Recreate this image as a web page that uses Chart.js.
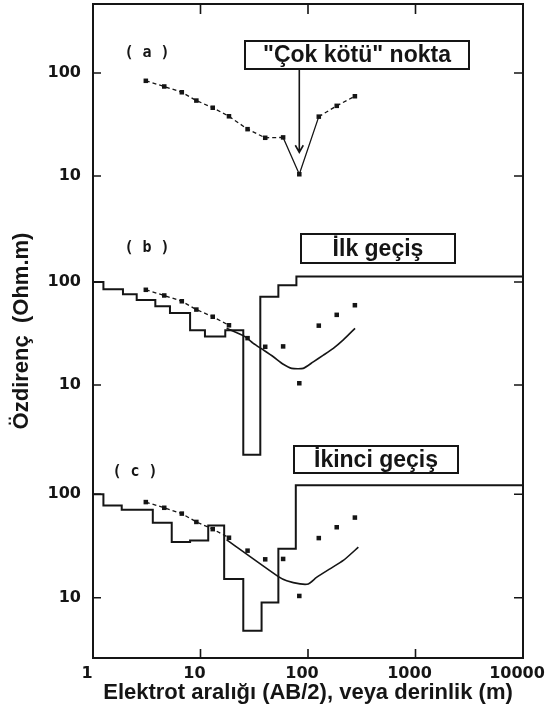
<!DOCTYPE html>
<html>
<head>
<meta charset="utf-8">
<script src="https://cdn.jsdelivr.net/npm/chart.js@4.4.1/dist/chart.umd.min.js"></script>
<style>
  html, body { margin: 0; padding: 0; background: #fff; }
</style>
</head>
<body>
<canvas id="chart" width="545" height="720"></canvas>
<script>
// same sounding shown in all three panels: AB/2 (m) and apparent resistivity (Ohm.m)
const spacing = [3.1, 4.6, 6.7, 9.15, 13, 18.4, 27.4, 40, 58.7, 83, 126, 185, 273];
const measured = [84, 74, 65, 54, 46, 38, 28.5, 23.5, 23.7, 10.4, 37.7, 48, 59.5];
const badIndex = 9;

// (b) first pass - layer tops (m) and layer resistivities
const layerTopsB = [1, 1.25, 1.9, 2.55, 3.8, 5.2, 8, 11, 17, 25, 36, 53, 78, 10000];
const layerResB = [100, 85, 76, 67, 58, 50, 34, 29.5, 34, 2.1, 72, 93, 113, 113];
const modelXB = [17.5, 25.9, 31, 38.4, 47.6, 58.9, 70.5, 90.3, 112, 139, 172, 213, 274];
const modelYB = [35.5, 29.5, 25.4, 21.9, 18.8, 15.9, 14.5, 14.5, 16.8, 19.5, 22.7, 27.4, 35.5];

// (c) second pass
const layerTopsC = [1, 1.25, 1.85, 3.6, 5.4, 8, 11.8, 16.6, 25, 37, 53, 77, 10000];
const layerResC = [100, 78, 71, 53, 34.5, 35.7, 50, 15.2, 4.8, 9, 29.7, 122, 122];
const modelXC = [17.5, 53, 63.4, 84.3, 100.7, 120, 160, 213, 294];
const modelYC = [36.3, 16, 14.6, 13.6, 13.6, 15.7, 19, 22.9, 30.8];

const xTicks = [1, 10, 100, 1000, 10000];
const yTicks = [10, 100];

const ink = '#151515';
const pts = (xs, ys) => xs.map((x, i) => ({ x, y: ys[i] }));
const fieldPts = pts(spacing, measured);

function stairs(tops, res, axis) {
    return { data: pts(tops, res), yAxisID: axis, stepped: true, borderColor: ink, borderWidth: 2,
             pointRadius: 0, clip: false };
}
function dots(axis) {
    return { data: fieldPts, yAxisID: axis, showLine: false, pointStyle: 'rect', pointRadius: 3.2,
             pointBackgroundColor: ink, pointBorderWidth: 0 };
}
function leadIn(axis) {
    return { data: fieldPts.slice(0, 6), yAxisID: axis, borderColor: ink, borderWidth: 1.3,
             borderDash: [4, 3], pointRadius: 0 };
}
function model(xs, ys, axis) {
    return { data: pts(xs, ys), yAxisID: axis, borderColor: ink, borderWidth: 1.6, pointRadius: 0, tension: 0.2 };
}

function panelAxis(min, max, weight, withTitle) {
    return {
        type: 'logarithmic', position: 'left', stack: 'panels', stackWeight: 1, weight,
        min, max,
        grid: { display: false, drawTicks: false },
        border: { display: false },
        afterBuildTicks: s => { s.ticks = yTicks.map(v => ({ value: v })); },
        afterFit: s => { s.width = 93; s.paddingTop = 0; s.paddingBottom = 0; },
        ticks: { callback: v => String(v), color: ink, padding: 12,
                 font: { family: 'DejaVu Sans', size: 16, weight: 'bold' } },
        title: { display: withTitle, text: 'Özdirenç  (Ohm.m)', color: ink,
                 font: { family: 'Liberation Sans', size: 22, weight: 'bold' },
                 padding: { top: 9, bottom: 0 } }
    };
}

const notes = [
    { axis: 'yA', text: '"Çok kötü" nokta', x: 152, y: 37, w: 224, h: 28 },
    { axis: 'yB', text: 'İlk geçiş', x: 208, y: 12, w: 154, h: 29 },
    { axis: 'yC', text: 'İkinci geçiş', x: 201, y: 6, w: 164, h: 27 }
];
const tags = [
    { axis: 'yA', text: '( a )', x: 54, y: 49 },
    { axis: 'yB', text: '( b )', x: 54, y: 26 },
    { axis: 'yC', text: '( c )', x: 42, y: 32 }
];

const decor = {
    id: 'decor',
    afterDraw(chart) {
        const { ctx, chartArea: a, scales } = chart;
        const xs = scales.x;
        ctx.save();
        ctx.strokeStyle = ink;
        ctx.fillStyle = ink;
        ctx.lineWidth = 2;
        ctx.strokeRect(a.left, a.top, a.right - a.left, a.bottom - a.top);

        // inward tick marks on all four sides
        ctx.lineWidth = 1.6;
        ctx.beginPath();
        xTicks.slice(1, -1).forEach(v => {
            const px = xs.getPixelForValue(v);
            ctx.moveTo(px, a.bottom); ctx.lineTo(px, a.bottom - 9);
            ctx.moveTo(px, a.top); ctx.lineTo(px, a.top + 10);
        });
        ['yA', 'yB', 'yC'].forEach(id => {
            yTicks.forEach(v => {
                const py = scales[id].getPixelForValue(v);
                ctx.moveTo(a.left, py); ctx.lineTo(a.left + 8, py);
                ctx.moveTo(a.right, py); ctx.lineTo(a.right - 9, py);
            });
        });
        ctx.stroke();

        ctx.textAlign = 'center';
        ctx.textBaseline = 'middle';
        ctx.font = 'bold 15px "DejaVu Sans Mono"';
        tags.forEach(t => ctx.fillText(t.text, a.left + t.x, scales[t.axis].top + t.y));

        ctx.font = 'bold 23px "Liberation Sans"';
        ctx.lineWidth = 2;
        notes.forEach(n => {
            const x0 = a.left + n.x, y0 = scales[n.axis].top + n.y;
            ctx.fillStyle = '#fff';
            ctx.fillRect(x0, y0, n.w, n.h);
            ctx.strokeRect(x0, y0, n.w, n.h);
            ctx.fillStyle = ink;
            ctx.fillText(n.text, x0 + n.w / 2, y0 + n.h / 2 + 1);
        });

        // arrow to the bad point
        const ax = xs.getPixelForValue(spacing[badIndex]);
        const ay0 = scales.yA.top + notes[0].y + notes[0].h;
        const ay1 = scales.yA.getPixelForValue(17);
        ctx.lineWidth = 1.6;
        ctx.beginPath();
        ctx.moveTo(ax, ay0); ctx.lineTo(ax, ay1);
        ctx.moveTo(ax - 4, ay1 - 7); ctx.lineTo(ax, ay1); ctx.lineTo(ax + 4, ay1 - 7);
        ctx.stroke();
        ctx.restore();
    }
};

new Chart(document.getElementById('chart'), {
    type: 'line',
    data: {
        datasets: [
            {
                data: fieldPts, yAxisID: 'yA', borderColor: ink, borderWidth: 1.3, borderDash: [4, 3],
                pointStyle: 'rect', pointRadius: 3.2, pointBackgroundColor: ink, pointBorderWidth: 0,
                segment: {
                    borderDash: c => (c.p0DataIndex === badIndex - 1 || c.p0DataIndex === badIndex) ? [] : [4, 3]
                }
            },
            stairs(layerTopsB, layerResB, 'yB'),
            leadIn('yB'),
            model(modelXB, modelYB, 'yB'),
            dots('yB'),
            stairs(layerTopsC, layerResC, 'yC'),
            leadIn('yC'),
            model(modelXC, modelYC, 'yC'),
            dots('yC')
        ]
    },
    options: {
        responsive: false,
        animation: false,
        layout: { padding: { top: 4, right: 22, left: 0, bottom: 0 } },
        plugins: { legend: { display: false }, tooltip: { enabled: false } },
        scales: {
            x: {
                type: 'logarithmic', position: 'bottom', min: 1, max: 10000,
                grid: { display: false, drawTicks: false },
                border: { display: false },
                afterBuildTicks: s => { s.ticks = xTicks.map(v => ({ value: v })); },
                afterFit: s => { s.paddingLeft = 0; s.paddingRight = 0; s.height = 62; },
                ticks: { callback: v => String(v), color: ink, padding: 6, labelOffset: -6,
                         maxRotation: 0, autoSkip: false,
                         font: { family: 'DejaVu Sans', size: 16, weight: 'bold' } },
                title: { display: true, text: 'Elektrot aralığı (AB/2), veya derinlik (m)', color: ink,
                         font: { family: 'Liberation Sans', size: 22, weight: 'bold' },
                         padding: { top: 0, bottom: 14 } }
            },
            yA: panelAxis(3.576, 467.8, 3, false),
            yB: panelAxis(2.924, 382.5, 2, true),
            yC: panelAxis(2.615, 334.4, 1, false)
        }
    },
    plugins: [decor]
});
</script>
</body>
</html>
